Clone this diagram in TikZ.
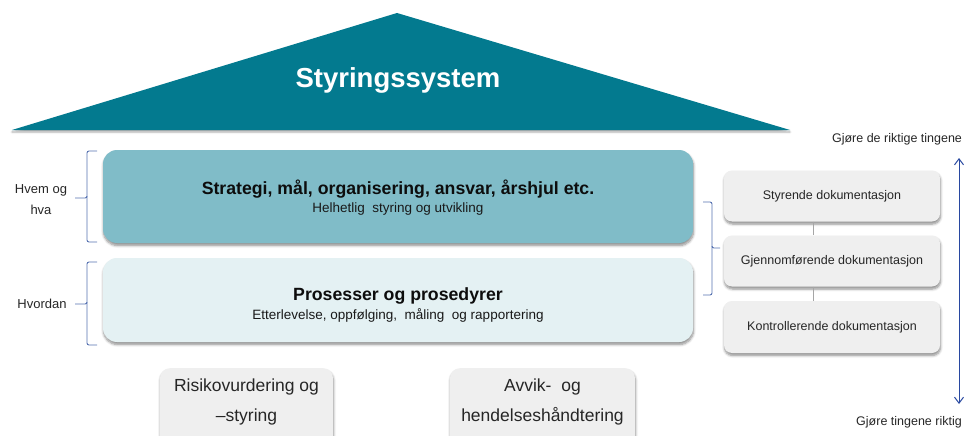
\documentclass[tikz,border=0pt]{standalone}
\usepackage{fontspec}
\setmainfont{Liberation Sans}
\usetikzlibrary{shadows,shadows.blur,arrows.meta,calc}
\definecolor{roofc}{RGB}{3,122,143}
\definecolor{topboxc}{RGB}{128,188,200}
\definecolor{midboxc}{RGB}{228,241,243}
\definecolor{grayboxc}{RGB}{239,239,239}
\definecolor{bracec}{RGB}{84,112,176}
\definecolor{arrowc}{RGB}{40,72,160}
\definecolor{txtc}{RGB}{38,38,38}
\tikzset{
  softshadow/.style={blur shadow={shadow xshift=0.5pt, shadow yshift=-2.5pt, shadow blur radius=2.5pt, shadow blur steps=6, shadow opacity=45}},
  bigbox/.style={rectangle, rounded corners=14pt, minimum width=590pt, softshadow, align=center, inner sep=0pt},
  docbox/.style={rectangle, rounded corners=8pt, fill=grayboxc, minimum width=216pt, softshadow, font=\fontsize{12.5}{15}\selectfont, text=txtc},
  lowbox/.style={rectangle, rounded corners=10pt, fill=grayboxc, softshadow, inner sep=0pt},
  lowtext/.style={align=center, font=\fontsize{17.5}{30}\selectfont, text=txtc, inner sep=0pt},
  sidelabel/.style={align=center, font=\fontsize{13}{21}\selectfont, text=txtc, inner sep=0pt},
  arrlabel/.style={font=\fontsize{12.5}{15}\selectfont, text=txtc, inner sep=0pt},
  bracestyle/.style={draw=bracec, line width=0.9pt, rounded corners=2pt},
  conn/.style={draw=black!35, line width=0.8pt},
  titletext/.style={font=\bfseries\fontsize{17.7}{20}\selectfont, text=black!95},
  subtext/.style={font=\fontsize{13.5}{16}\selectfont, text=black!90},
}
\begin{document}
\begin{tikzpicture}[x=1pt,y=-1pt]
\useasboundingbox (0,0) rectangle (970,436);
\clip (0,0) rectangle (970,436);

% roof
\fill[roofc, blur shadow={shadow xshift=0pt, shadow yshift=-2pt, shadow blur radius=2pt, shadow opacity=35}] (12,130) -- (397,13) -- (790,130) -- cycle;
\node[font=\bfseries\fontsize{27.5}{30}\selectfont, text=white] (roof) at (398,80) {Styringssystem};

% main boxes
\node[bigbox, fill=topboxc, minimum height=93pt] (strat) at (398,196.5) {};
\node[titletext] (strattitle) at (398,189) {Strategi, mål, organisering, ansvar, årshjul etc.};
\node[subtext] (stratsub) at (398,209) {Helhetlig\ \ styring og utvikling};

\node[bigbox, fill=midboxc, minimum height=84pt] (proc) at (398,300) {};
\node[titletext] (proctitle) at (398,296) {Prosesser og prosedyrer};
\node[subtext] (procsub) at (398,315) {Etterlevelse,\ oppfølging,\ \ måling\ \ og rapportering};

% left braces and labels
\node[sidelabel] (hva) at (41,200) {Hvem og\\hva};
\node[sidelabel] (hvordan) at (42,304) {Hvordan};
\coordinate (b1top) at (97,151);
\coordinate (b1bot) at (97,242);
\coordinate (b1tip) at (75,198);
\draw[bracestyle] (b1top) -- (87,151) -- (87,198) -- (b1tip);
\draw[bracestyle] (87,196) -- (87,242) -- (b1bot);
\coordinate (b2top) at (97,262);
\coordinate (b2bot) at (97,345);
\coordinate (b2tip) at (75,304);
\draw[bracestyle] (b2top) -- (87,262) -- (87,304) -- (b2tip);
\draw[bracestyle] (87,302) -- (87,345) -- (b2bot);

% right document boxes
\node[docbox, minimum height=51pt] (styr) at (832,196) {Styrende dokumentasjon};
\node[docbox, minimum height=51pt] (gjen) at (832,261) {Gjennomførende\ dokumentasjon};
\node[docbox, minimum height=52pt] (kont) at (832,327) {Kontrollerende dokumentasjon};
\draw[conn] ([xshift=-19pt]styr.south) -- ([xshift=-19pt]gjen.north);
\draw[conn] ([xshift=-19pt]gjen.south) -- ([xshift=-19pt]kont.north);

% right brace
\coordinate (rbtop) at (703,202);
\coordinate (rbbot) at (703,295);
\coordinate (rbtip) at (720,248);
\draw[bracestyle] (rbtop) -- (712,202) -- (712,248) -- (rbtip);
\draw[bracestyle] (712,246) -- (712,295) -- (rbbot);

% vertical arrow
\node[arrlabel] (toplab) at (897,139) {Gjøre de riktige tingene};
\node[arrlabel] (botlab) at (909,422) {Gjøre tingene riktig};
\coordinate (atop) at (959,158);
\coordinate (abot) at (959,404);
\draw[draw=arrowc, line width=1pt, {Straight Barb[length=6pt,width=9pt]}-{Straight Barb[length=6pt,width=9pt]}] (atop) -- (abot);

% bottom boxes
\node[lowbox, minimum width=173pt, minimum height=90pt, anchor=north] (risk) at (246.5,368) {};
\node[lowtext] (risktext) at (246.5,402) {Risikovurdering og\\–styring};
\node[lowbox, minimum width=185pt, minimum height=90pt, anchor=north] (avvik) at (542.5,368) {};
\node[lowtext] (avviktext) at (542.5,402) {Avvik-\ \ og\\hendelseshåndtering};
\end{tikzpicture}
\end{document}
